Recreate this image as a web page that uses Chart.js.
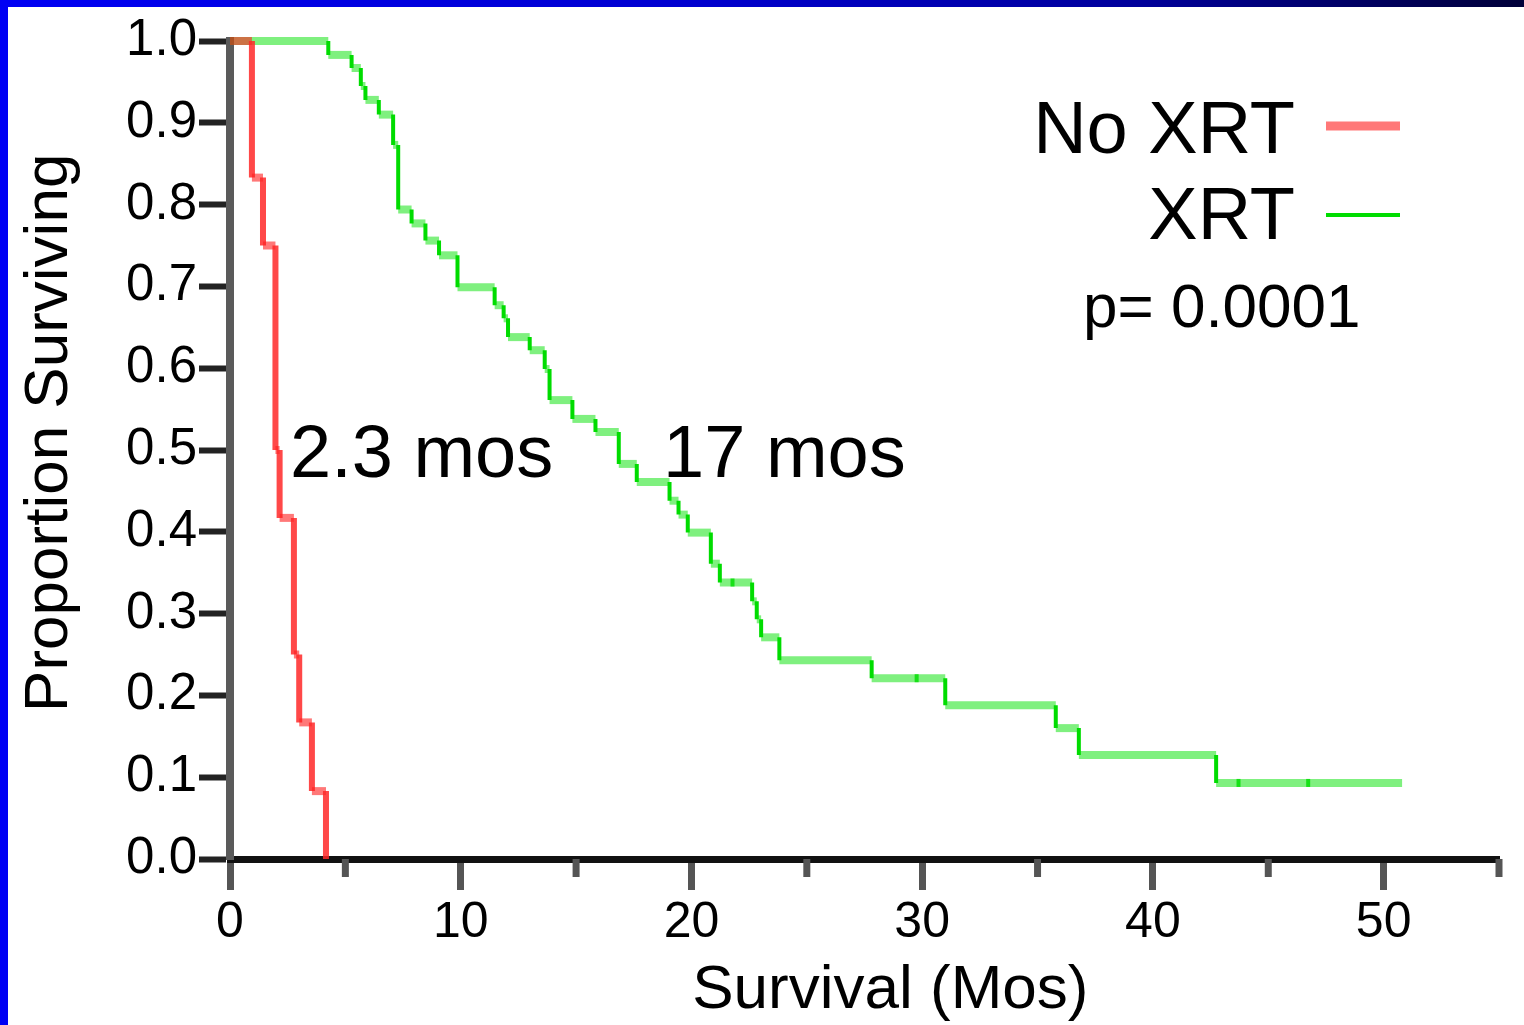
<!DOCTYPE html>
<html>
<head>
<meta charset="utf-8">
<script src="https://cdn.jsdelivr.net/npm/chart.js@4.4.1/dist/chart.umd.min.js"></script>
<style>
  html, body { margin: 0; padding: 0; background: #fff; }
  #wrap { position: relative; width: 1524px; height: 1025px; overflow: hidden; background: #fff; }
  #wrap canvas { position: absolute; left: 0; top: 0; }
  #topbar { position: absolute; left: 0; top: 0; width: 1524px; height: 7px; z-index: 2;
    background: linear-gradient(to right, #0000f4 0%, #0000d0 45%, #00009a 75%, #000038 100%); }
  #leftbar { position: absolute; left: 0; top: 0; width: 8px; height: 1025px; z-index: 2; background: #0000f4; }
</style>
</head>
<body>
<div id="wrap">
  <canvas id="kmChart" width="1524" height="1025"></canvas>
  <div id="topbar"></div>
  <div id="leftbar"></div>
</div>
<script>
// Kaplan-Meier curves (months, proportion surviving)
const noXrtTimes = [0, 0.95, 1.43, 1.97, 2.15, 2.77, 3.0, 3.55, 4.16];
const noXrtSurv = [1, 0.833, 0.75, 0.5, 0.417, 0.25, 0.167, 0.083, 0];

const xrtTimes = [0, 4.26, 5.27, 5.67, 5.87, 6.45, 7.07, 7.29, 7.87, 8.47, 9.06, 9.86,
  11.47, 11.86, 12.05, 12.99, 13.64, 13.85, 14.84, 15.84, 16.85, 17.63, 19.05, 19.44,
  19.84, 20.84, 21.23, 22.63, 22.83, 23.02, 23.81, 27.81, 31.0, 35.79, 36.79, 42.74];
const xrtSurv = [1, 0.983, 0.967, 0.945, 0.928, 0.910, 0.873, 0.794, 0.777, 0.756, 0.738, 0.699,
  0.677, 0.661, 0.638, 0.622, 0.599, 0.561, 0.538, 0.522, 0.483, 0.461, 0.438, 0.421,
  0.399, 0.361, 0.338, 0.315, 0.293, 0.271, 0.243, 0.221, 0.188, 0.160, 0.127, 0.093];
const xrtLastFollowUp = 50.8;
const xrtCensorTimes = [21.78, 29.76, 43.71, 46.73];

const seriesLabels = ['No XRT', 'XRT'];
const pValueText = 'p= 0.0001';
const medianNotes = ['2.3 mos', '17 mos'];

const xTickValues = [0, 5, 10, 15, 20, 25, 30, 35, 40, 45, 50, 55];
const xMajorTicks = [0, 10, 20, 30, 40, 50];
const yTickValues = [0, 0.1, 0.2, 0.3, 0.4, 0.5, 0.6, 0.7, 0.8, 0.9, 1.0];

const FONT = '"Liberation Sans", Arial, Helvetica, sans-serif';

// turn (time, survival) pairs into the corner points of a step line
function stepPoints(times, surv, endTime) {
  const pts = [];
  for (let i = 0; i < times.length; i++) {
    pts.push({ x: times[i], y: surv[i] });
    const next = i + 1 < times.length ? times[i + 1] : endTime;
    if (next !== undefined) pts.push({ x: next, y: surv[i] });
  }
  return pts;
}

function survivalAt(times, surv, t) {
  let s = surv[0];
  for (let i = 0; i < times.length; i++) if (times[i] <= t) s = surv[i];
  return s;
}

const flat = c => c.p0.parsed.y === c.p1.parsed.y;

const redFlat = 'rgba(255,30,30,0.6)', redStep = 'rgba(255,40,40,0.85)';
const greenFlat = 'rgba(0,225,0,0.5)', greenStep = '#00dc00';

// minor ticks on the x axis are shorter than the labelled ones
const minorTicks = {
  id: 'minorTicks',
  beforeDatasetsDraw(chart) {
    const x = chart.scales.x, ctx = chart.ctx;
    ctx.save();
    ctx.strokeStyle = '#555';
    ctx.lineWidth = 7;
    xTickValues.filter(v => !xMajorTicks.includes(v)).forEach(v => {
      const px = x.getPixelForValue(v);
      ctx.beginPath();
      ctx.moveTo(px, x.top);
      ctx.lineTo(px, x.top + 18);
      ctx.stroke();
    });
    ctx.restore();
  }
};

// legend (text left of the line sample), p value and median notes
const notes = {
  id: 'notes',
  afterDraw(chart) {
    const ctx = chart.ctx, xs = chart.scales.x, ys = chart.scales.y;
    const right = chart.chartArea.right;
    ctx.save();
    ctx.fillStyle = '#000';
    ctx.textBaseline = 'alphabetic';
    ctx.font = '74px ' + FONT;

    const rows = [
      { base: 153, lineY: 126, color: redFlat, width: 9 },
      { base: 239, lineY: 215, color: greenStep, width: 4 }
    ];
    rows.forEach((r, i) => {
      ctx.textAlign = 'right';
      ctx.fillText(seriesLabels[i], right - 204, r.base);
      ctx.strokeStyle = r.color;
      ctx.lineWidth = r.width;
      ctx.beginPath();
      ctx.moveTo(right - 173, r.lineY);
      ctx.lineTo(right - 99, r.lineY);
      ctx.stroke();
    });

    ctx.textAlign = 'left';
    ctx.font = '62px ' + FONT;
    ctx.fillText(pValueText, right - 416, 327);

    ctx.font = '74px ' + FONT;
    ctx.fillText(medianNotes[0], xs.getPixelForValue(2.6), ys.getPixelForValue(0.467));
    ctx.fillText(medianNotes[1], xs.getPixelForValue(18.77), ys.getPixelForValue(0.467));
    ctx.restore();
  }
};

Chart.defaults.font.family = FONT;
Chart.defaults.color = '#000';

new Chart(document.getElementById('kmChart').getContext('2d'), {
  type: 'scatter',
  data: {
    datasets: [
      {
        label: seriesLabels[0],
        data: stepPoints(noXrtTimes, noXrtSurv),
        showLine: true,
        pointRadius: 0,
        borderColor: redStep,
        borderWidth: 6,
        borderCapStyle: 'butt',
        clip: false,
        segment: {
          borderColor: c => flat(c) ? redFlat : redStep,
          borderWidth: c => flat(c) ? 8 : 6
        }
      },
      {
        label: seriesLabels[1],
        data: stepPoints(xrtTimes, xrtSurv, xrtLastFollowUp),
        showLine: true,
        pointRadius: 0,
        borderColor: greenStep,
        borderWidth: 4,
        borderCapStyle: 'butt',
        clip: false,
        segment: {
          borderColor: c => flat(c) ? greenFlat : greenStep,
          borderWidth: c => flat(c) ? 8 : 4
        }
      },
      {
        label: 'censored',
        data: xrtCensorTimes.map(t => ({ x: t, y: survivalAt(xrtTimes, xrtSurv, t) })),
        showLine: false,
        pointStyle: 'line',
        rotation: 90,
        pointRadius: 4,
        pointBorderWidth: 4,
        pointBorderColor: '#2ee02e',
        clip: false
      }
    ]
  },
  options: {
    responsive: false,
    devicePixelRatio: 1,
    animation: false,
    events: [],
    layout: { padding: { top: 41, right: 25, bottom: 0, left: 8 } },
    plugins: { legend: { display: false }, tooltip: { enabled: false } },
    scales: {
      x: {
        type: 'linear',
        min: 0,
        max: 55,
        afterFit: s => { s.height = 166; },
        afterBuildTicks: s => { s.ticks = xTickValues.map(v => ({ value: v })); },
        border: { display: true, color: '#111', width: 7 },
        grid: {
          drawOnChartArea: false,
          drawTicks: true,
          tickLength: 31,
          tickWidth: 7,
          tickColor: c => (c.tick && xMajorTicks.includes(c.tick.value)) ? '#555' : 'rgba(0,0,0,0)'
        },
        ticks: {
          autoSkip: false,
          maxRotation: 0,
          padding: 3,
          font: { size: 50 },
          color: '#000',
          callback: v => xMajorTicks.includes(v) ? String(v) : ''
        },
        title: {
          display: true,
          text: '   Survival (Mos)',
          color: '#000',
          font: { size: 62, lineHeight: 1.1 },
          padding: { top: 0, bottom: 0 }
        }
      },
      y: {
        type: 'linear',
        min: 0,
        max: 1,
        afterFit: s => { s.width = 222; },
        afterBuildTicks: s => { s.ticks = yTickValues.map(v => ({ value: v })); },
        border: { display: true, color: '#5a5a5a', width: 8 },
        grid: {
          drawOnChartArea: false,
          drawTicks: true,
          tickLength: 31,
          tickWidth: 6,
          tickColor: '#222'
        },
        ticks: {
          padding: 2,
          font: { size: 51 },
          color: '#000',
          callback: v => Number(v).toFixed(1)
        },
        title: {
          display: true,
          text: '  Proportion Surviving',
          color: '#000',
          font: { size: 62, lineHeight: 1.2 },
          padding: { top: 5, bottom: 0 }
        }
      }
    }
  },
  plugins: [minorTicks, notes]
});
</script>
</body>
</html>
